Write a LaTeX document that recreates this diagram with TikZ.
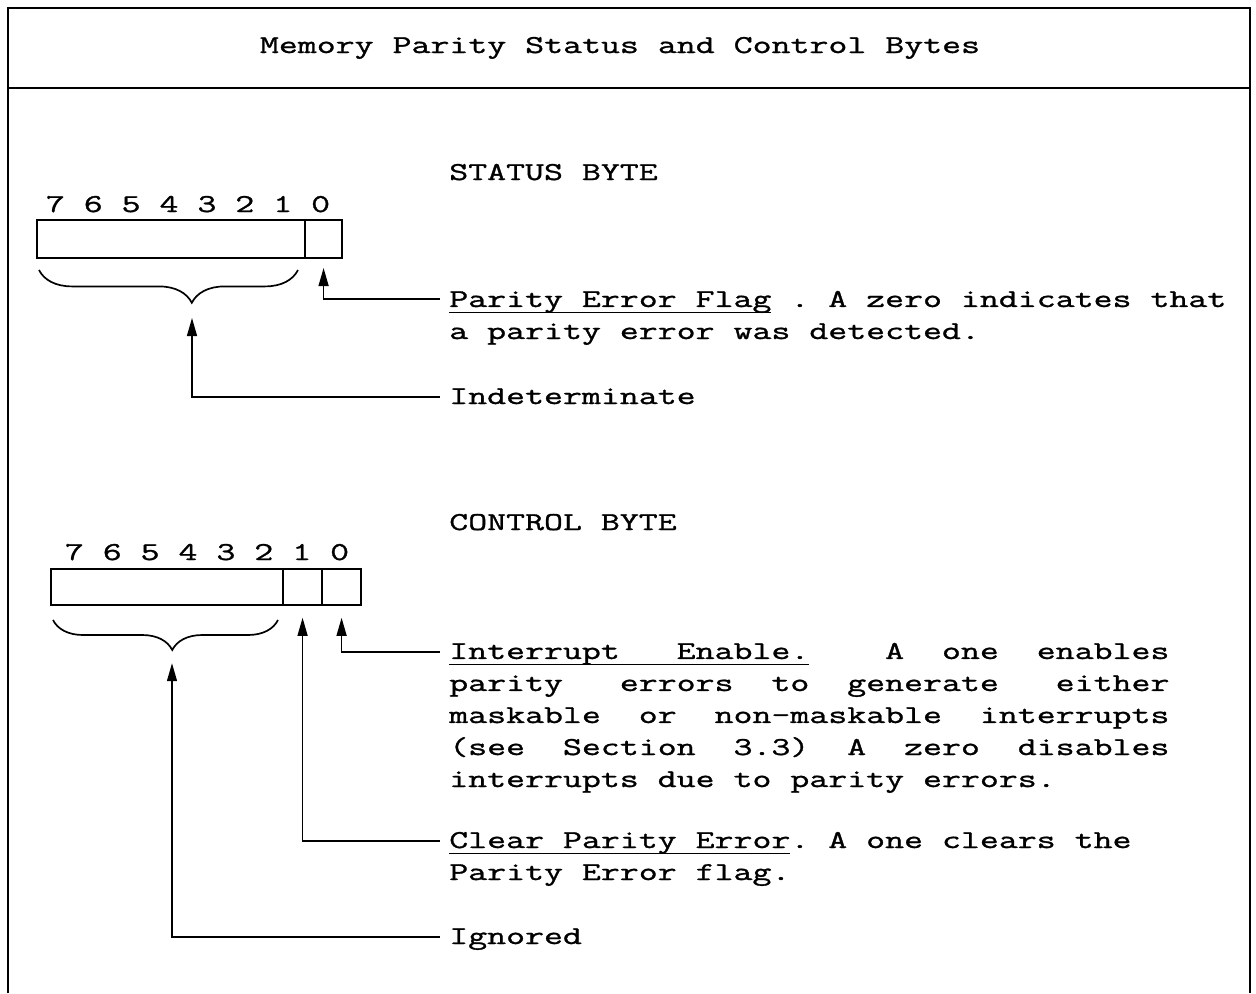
\documentclass[tikz,border=0pt]{standalone}
\usepackage{fontspec}
\setmonofont{Latin Modern Mono}[FakeStretch=1.43,FakeBold=1.2]
\usepackage{tikz}
\usetikzlibrary{arrows.meta,positioning,decorations.pathreplacing}

% underline that reaches across the typed spaces
\newcommand{\ulined}[1]{\setbox0=\hbox{#1}\rlap{\rule[-0.15cm]{\wd0}{1pt}}\box0}

\begin{document}
\begin{tikzpicture}[
    x=0.025cm, y=-0.025cm,
    frame/.style={line width=1.3pt},
    txt/.style={inner sep=0pt, align=left,
                font=\ttfamily\fontsize{18.3pt}{22.76pt}\selectfont},
    field/.style={rectangle, draw, line width=1.3pt, inner sep=0pt,
                  outer sep=0pt, minimum height=0.95cm},
    brc/.style={decorate, line width=1.2pt},
    lead/.style={-{Triangle[length=0.45cm,width=0.25cm]}, line width=1pt},
]
    \useasboundingbox (0,0) rectangle (1256,993);
    \draw[frame] (8,993) -- (8,8) -- (1250,8) -- (1250,993);
    \draw[frame] (8,88) -- (1250,88);
    \node[txt, anchor=base] (title) at (620,53)
         {Memory Parity Status and Control Bytes};

    % status byte
    \node[txt, anchor=base west] (shead) at (449,180) {STATUS BYTE};
    \node[txt, anchor=base] (sbits) at (188,212) {7~6~5~4~3~2~1~0};
    \node[field, minimum width=6.7cm, anchor=north west] (shi) at (37,220) {};
    \node[field, minimum width=0.925cm, right=0pt of shi] (sb0) {};
    \draw[brc, decoration={brace, mirror, amplitude=0.82cm, aspect=0.59}]
         (39,270) -- (298,270);
    \coordinate (stip) at (192,303);
    % base of a multi-line node is its last line
    \node[txt, anchor=base west] (sflag) at (449,339)
         {\ulined{Parity~Error~Flag}~.~A~zero~indicates~that\\
          a~parity~error~was~detected.};
    \node[txt, anchor=base west] (sind) at (449,404) {Indeterminate};
    \coordinate (sflagL) at (440,299);
    \coordinate (sindL) at (440,397);
    \draw[lead, shorten >=0.25cm] (sflagL) -| (sb0.south);
    \draw[lead, shorten >=0.375cm] (sindL) -| (stip);

    % control byte
    \node[txt, anchor=base west] (chead) at (449,530) {CONTROL BYTE};
    \node[txt, anchor=base] (cbits) at (207,560) {7~6~5~4~3~2~1~0};
    \node[field, minimum width=5.8cm, minimum height=0.9cm,
          anchor=north west] (chi) at (51,569) {};
    \node[field, minimum width=0.975cm, minimum height=0.9cm,
          right=0pt of chi] (cb1) {};
    \node[field, minimum width=0.975cm, minimum height=0.9cm,
          right=0pt of cb1] (cb0) {};
    \draw[brc, decoration={brace, mirror, amplitude=0.75cm, aspect=0.53}]
         (53,620) -- (278,620);
    \coordinate (ctip) at (172,650);
    \node[txt, anchor=base west] (cint) at (449,787)
         {\ulined{Interrupt~~~Enable.}~~~~A~~one~~enables\\
          parity~~~errors~~to~~generate~~~either\\
          maskable~~or~~non-maskable~~interrupts\\
          (see~~Section~~3.3)~~A~~zero~~disables\\
          interrupts~due~to~parity~errors.};
    \node[txt, anchor=base west] (cclr) at (449,880)
         {\ulined{Clear~Parity~Error}.~A~one~clears~the\\
          Parity~Error~flag.};
    \node[txt, anchor=base west] (cign) at (449,944) {Ignored};
    \coordinate (cintL) at (440,652);
    \coordinate (cclrL) at (440,841);
    \coordinate (cignL) at (440,937);
    \draw[lead, shorten >=0.32cm] (cintL) -| (cb0.south);
    \draw[lead, shorten >=0.32cm] (cclrL) -| (cb1.south);
    \draw[lead, shorten >=0.33cm] (cignL) -| (ctip);
\end{tikzpicture}
\end{document}
